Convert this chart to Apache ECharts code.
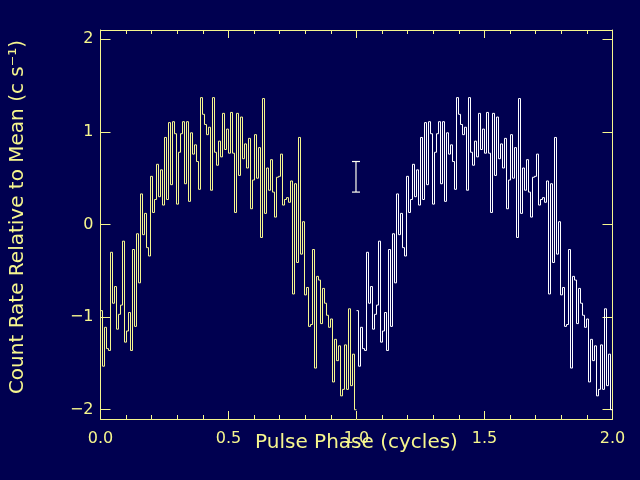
<!DOCTYPE html>
<html><head><meta charset="utf-8">
<script src="https://cdn.jsdelivr.net/npm/echarts@6/dist/echarts.min.js"></script>
<style>html,body{margin:0;padding:0;background:#000050;} #c{width:640px;height:480px;}</style>
</head><body><div id="c"></div>
<script>
// pulse profile: count rate relative to mean, 128 phase bins per cycle
const nBins = 128;
const profile = [
 -0.93,-1.53,-1.11,-1.34,-1.36,-0.30,-0.85,-0.67,-1.13,-0.97,-0.87,-0.18,-1.27,-1.15,-0.95,-1.36,
 -0.27,-1.10,-0.10,-0.63, 0.33,-0.11, 0.12,-0.25,-0.34, 0.52, 0.13, 0.27, 0.65, 0.30, 0.59, 0.21,
  0.94, 0.27, 1.10, 0.43, 1.11, 0.98, 0.22, 0.78, 0.98, 1.11, 0.44, 1.11, 0.25, 0.99, 0.76, 0.86,
  0.68, 0.38, 1.37, 1.19, 1.08, 0.97, 1.05, 0.37, 1.37, 0.78, 0.64, 0.90, 0.73, 1.20, 0.81, 1.03,
  0.77, 1.21, 0.77, 0.13, 1.20, 0.53, 1.16, 0.71, 0.87, 0.61, 0.93, 0.17, 0.48, 0.97, 0.50, 0.83,
 -0.14, 1.36, 0.12, 0.61, 0.37, 0.70, 0.35, 0.08, 0.51, 0.52, 0.76, 0.21, 0.27, 0.29, 0.24, 0.47,
 -0.75, 0.44,-0.41, 0.94,-0.32, 0.03,-0.76,-0.68,-1.10,-1.08,-0.27,-1.55,-0.56,-0.60,-1.07,-0.69,
 -0.85,-0.98,-1.11,-1.02,-1.70,-1.24,-1.47,-1.31,-1.85,-1.78,-1.30,-1.78,-0.91,-1.74,-1.40,-2.00
];
const yTickValues = [-2, -1, 0, 1, 2];
const errPhase = [0.998];
const errCenter = [0.515];
const errHalf = [0.165];

const YEL = '#f6f68e';
const WHT = '#ffffff';
const BG = '#000050';

// histogram bins: [left edge, right edge, value, next value]
function cycleBins(offset) {
  return profile.map((v, k) => [
    offset + k / nBins, offset + (k + 1) / nBins, v,
    k + 1 < profile.length ? profile[k + 1] : v
  ]);
}

function histSeries(offset, color) {
  return {
    type: 'custom', xAxisIndex: 0, yAxisIndex: 0, clip: true, z: 3,
    data: cycleBins(offset),
    renderItem: (params, api) => {
      const x0 = api.value(0), x1 = api.value(1), v = api.value(2), vn = api.value(3);
      const a = api.coord([x0, v]), b = api.coord([x1, v]), c = api.coord([x1, vn]);
      return {type: 'polyline', shape: {points: [a, b, c]},
              style: {stroke: color, lineWidth: 1, fill: null}};
    }
  };
}

const chart = echarts.init(document.getElementById('c'), null, {renderer: 'canvas'});
const axisLine = {show: true, onZero: false, lineStyle: {color: YEL, width: 1}};
chart.setOption({
  backgroundColor: BG,
  animation: false,
  grid: {left: 100.5, right: 27.5, top: 30, bottom: 61, show: false},
  xAxis: [
    {type: 'value', position: 'bottom', min: 0, max: 2, interval: 0.5,
     axisLine: axisLine,
     axisTick: {show: true, inside: true, length: 8, lineStyle: {color: YEL}},
     minorTick: {show: true, splitNumber: 5, length: 4, lineStyle: {color: YEL}},
     splitLine: {show: false}, minorSplitLine: {show: false},
     axisLabel: {color: YEL, fontFamily: 'DejaVu Sans', fontSize: 16, margin: 12,
                 formatter: v => v.toFixed(1)},
     name: 'Pulse Phase (cycles)', nameLocation: 'middle', nameGap: 14, nameMoveOverlap: false,
     nameTextStyle: {color: YEL, fontFamily: 'DejaVu Sans', fontSize: 20}},
    {type: 'value', position: 'top', min: 0, max: 2, interval: 0.5,
     axisLine: axisLine,
     axisTick: {show: true, inside: true, length: 8, lineStyle: {color: YEL}},
     minorTick: {show: true, splitNumber: 5, length: 4, lineStyle: {color: YEL}},
     splitLine: {show: false}, axisLabel: {show: false}}
  ],
  yAxis: [
    {type: 'value', position: 'left', min: -2.1, max: 2.1,
     axisLine: axisLine,
     axisTick: {show: true, inside: true, length: 10, customValues: yTickValues, lineStyle: {color: YEL}},
     splitLine: {show: false},
     axisLabel: {color: YEL, fontFamily: 'DejaVu Sans', fontSize: 16, margin: 7,
                 customValues: yTickValues,
                 formatter: v => (v < 0 ? '\u2212' + Math.abs(v) : String(v))}},
    {type: 'value', position: 'right', min: -2.1, max: 2.1,
     axisLine: axisLine,
     axisTick: {show: true, inside: true, length: 10, customValues: yTickValues, lineStyle: {color: YEL}},
     splitLine: {show: false}, axisLabel: {show: false}}
  ],
  graphic: [{
    type: 'text', x: 18, y: 217, rotation: Math.PI / 2,
    style: {text: 'Count Rate Relative to Mean (c s\u207B\u00B9)', fill: YEL,
            font: '20px "DejaVu Sans"', textAlign: 'center', textVerticalAlign: 'middle'}
  }],
  series: [
    histSeries(0, YEL),
    histSeries(1, WHT),
    {type: 'custom', xAxisIndex: 0, yAxisIndex: 0,
     data: errPhase.map((p, i) => [p, errCenter[i] - errHalf[i], errCenter[i] + errHalf[i]]),
     renderItem: (params, api) => {
       const lo = api.coord([api.value(0), api.value(1)]);
       const hi = api.coord([api.value(0), api.value(2)]);
       const w = 4;
       const st = {stroke: '#fffff0', lineWidth: 1.2};
       return {type: 'group', children: [
         {type: 'line', shape: {x1: lo[0], y1: lo[1], x2: hi[0], y2: hi[1]}, style: st},
         {type: 'line', shape: {x1: lo[0] - w, y1: lo[1], x2: lo[0] + w, y2: lo[1]}, style: st},
         {type: 'line', shape: {x1: hi[0] - w, y1: hi[1], x2: hi[0] + w, y2: hi[1]}, style: st}
       ]};
     }, z: 4}
  ]
});
</script></body></html>
